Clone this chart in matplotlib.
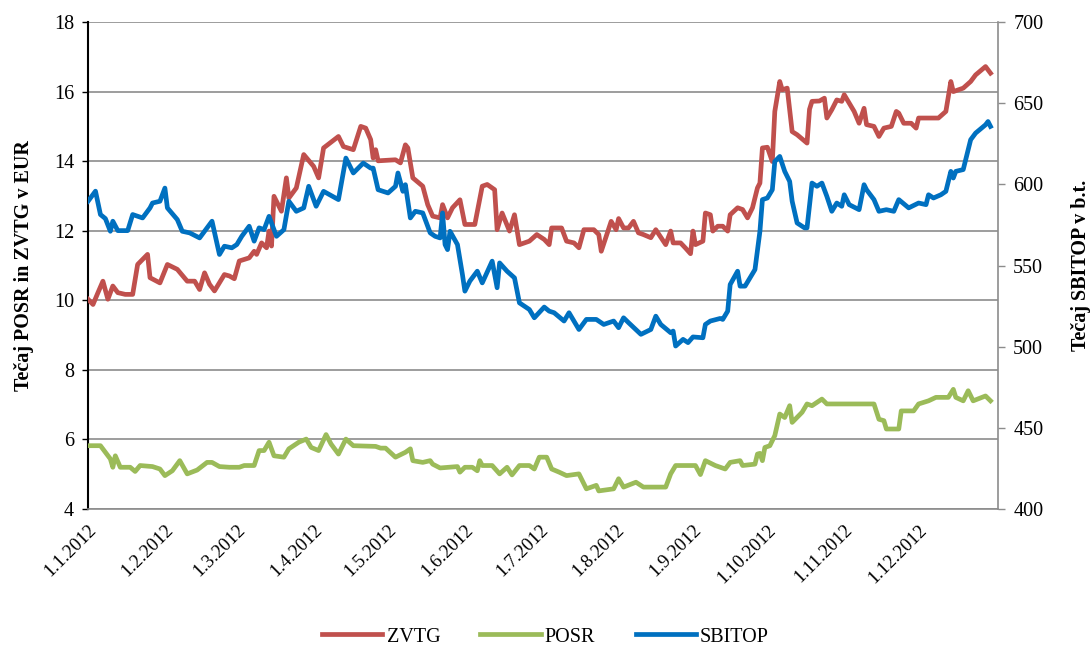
import matplotlib
matplotlib.use("Agg")
import matplotlib.pyplot as plt
import pandas as pd

plt.rcParams['font.family'] = ['Liberation Serif', 'DejaVu Serif']

START = pd.Timestamp('2012-01-01')

# days counted from 1.1.2012
zvtg_day = [0, 2, 4, 6, 8, 10, 12, 15, 18, 20, 24, 25, 29, 32, 36, 40, 43, 45, 47, 49, 51, 55, 57,
            59, 61, 65, 67, 68, 70, 72, 73, 74, 75, 78, 80, 81, 84, 87, 91, 93, 95, 101, 103, 107,
            110, 112, 114, 115, 116, 117, 124, 126, 128, 129, 131, 135, 137, 139, 142, 143, 145,
            147, 150, 152, 156, 159, 161, 164, 165, 167, 170, 172, 174, 178, 181, 184, 186, 187,
            191, 193, 196, 198, 200, 204, 206, 207, 209, 211, 213, 214, 216, 218, 220, 222, 224,
            227, 229, 233, 235, 236, 239, 241, 243, 244, 245, 248, 249, 251, 252, 254, 256, 258,
            259, 262, 264, 266, 268, 270, 271, 272, 274, 276, 277, 279, 280, 282, 284, 286, 290,
            291, 292, 295, 297, 298, 300, 302, 304, 305, 307, 309, 311, 313, 314, 317, 319, 321,
            324, 326, 327, 329, 332, 334, 335, 343, 346, 348, 349, 353, 356, 358, 362, 364]
zvtg = [10.03, 9.88, 10.22, 10.55, 10.03, 10.41, 10.22, 10.17, 10.17, 11.03, 11.32, 10.65, 10.50,
        11.03, 10.89, 10.55, 10.55, 10.31, 10.79, 10.46, 10.27, 10.74, 10.70,
        10.62, 11.13, 11.22, 11.41, 11.32, 11.65, 11.51, 11.99, 11.56, 12.99, 12.56, 13.52, 12.94,
        13.23, 14.19, 13.85, 13.52, 14.38, 14.71, 14.42, 14.33,
        15.00, 14.95, 14.62, 14.09, 14.33, 14.01, 14.04, 13.95, 14.47, 14.38, 13.52, 13.28, 12.75,
        12.42, 12.37, 12.75, 12.37,
        12.66, 12.89, 12.18, 12.18, 13.28, 13.33, 13.18, 12.03, 12.51, 11.99, 12.46, 11.60, 11.70,
        11.89, 11.75, 11.60, 12.08,
        12.08, 11.70, 11.65, 11.51, 12.03, 12.03, 11.89, 11.41, 11.84, 12.27, 12.03, 12.35, 12.08,
        12.08, 12.27, 11.94, 11.89,
        11.80, 12.03, 11.60, 11.99, 11.65, 11.65, 11.50, 11.34, 11.99, 11.60, 11.70, 12.51, 12.46,
        11.99, 12.13, 12.13, 11.99,
        12.46, 12.66, 12.61, 12.37, 12.66, 13.23, 13.37, 14.38, 14.40, 13.99, 15.43, 16.29, 16.05,
        16.10, 14.85, 14.76, 14.52,
        15.49, 15.72, 15.73, 15.81, 15.24, 15.48, 15.76, 15.72, 15.91, 15.67, 15.43, 15.09, 15.52,
        15.05, 15.00, 14.71, 14.95,
        15.00, 15.43, 15.38, 15.09, 15.09, 14.95, 15.24, 15.24, 15.43, 16.29, 16.00, 16.10, 16.29,
        16.48, 16.72, 16.53]

posr_day = [0, 5, 9, 10, 11, 13, 17, 19, 21, 26, 29, 31, 34, 37, 40, 44, 48, 50, 53, 57,
            61, 63, 67, 69, 71, 73, 75, 79, 81, 85, 88, 90, 93, 96, 98, 101, 104, 107, 116, 118,
            120, 124, 128, 130, 131, 135, 138, 139, 142, 149, 150, 152, 155, 157, 158, 159, 163,
            166, 169, 171, 174, 178, 180, 182, 185, 187, 190, 193, 198, 201, 205, 206, 212, 214,
            216, 221, 224, 233, 235, 237, 243, 245, 247, 249, 253, 257, 259, 263, 264, 269, 270,
            271, 272, 273, 275, 277, 279, 281, 283, 284, 288, 290, 292, 296, 298, 305, 317, 319,
            321, 322, 327, 328, 333, 335, 339, 342, 347, 349, 350, 353, 355, 357, 362, 364]
posr = [5.82, 5.82, 5.44, 5.20, 5.53, 5.20, 5.20, 5.08, 5.25, 5.22, 5.15, 4.96, 5.10, 5.39, 5.01,
        5.12, 5.34, 5.34, 5.22, 5.20,
        5.20, 5.25, 5.25, 5.68, 5.68, 5.92, 5.53, 5.49, 5.73, 5.92, 6.01, 5.77, 5.68, 6.14, 5.87,
        5.58, 6.01, 5.82, 5.80, 5.75,
        5.75, 5.49, 5.63, 5.73, 5.39, 5.34, 5.39, 5.29, 5.18, 5.22, 5.06, 5.20, 5.20, 5.10, 5.39,
        5.25, 5.25,
        5.01, 5.20, 4.98, 5.25, 5.25, 5.15, 5.49, 5.49, 5.15, 5.06, 4.96, 5.01, 4.58, 4.68, 4.52,
        4.58, 4.87,
        4.63, 4.77, 4.63, 4.63, 5.01, 5.25, 5.25, 5.25, 4.99, 5.39, 5.25, 5.15, 5.34, 5.39, 5.25,
        5.29, 5.58,
        5.60, 5.39, 5.77, 5.82, 6.11, 6.73, 6.63, 6.97, 6.49, 6.78, 7.02, 6.97, 7.16, 7.02, 7.02,
        7.02, 6.58,
        6.54, 6.30, 6.30, 6.82, 6.82, 7.02, 7.11, 7.21, 7.21, 7.44, 7.21, 7.11, 7.40, 7.11, 7.25,
        7.11]

sbitop_day = [0, 3, 5, 7, 9, 10, 12, 16, 18, 22, 25, 26, 29, 31, 32, 36, 38, 41, 45, 47, 50, 53,
              55, 58, 60, 62, 65, 67, 69, 71, 73, 74, 76, 79, 81, 84, 87, 89, 92, 95, 101, 104,
              107, 111, 114, 115, 117, 121, 124, 125, 127, 128, 130, 132, 135, 138, 140, 142, 143,
              144, 145, 146, 149, 151, 152, 154, 157, 159, 163, 165, 166, 169, 172, 174, 178, 180,
              184, 186, 188, 192, 194, 198, 201, 205, 208, 212, 214, 216, 218, 223, 227, 229, 231,
              235, 236, 237, 240, 242, 244, 248, 249, 251, 255, 256, 258, 259, 262, 263, 265, 267,
              269, 271, 272, 274, 276, 277, 279, 281, 283, 284, 286, 289, 290, 292, 294, 296, 298,
              300, 302, 304, 305, 307, 311, 313, 314, 317, 319, 322, 325, 327, 331, 335, 338, 339,
              341, 344, 346, 348, 349, 350, 353, 356, 358, 362, 363, 364]
sbitop = [589.6, 595.8, 581.4, 578.9, 571.1, 577.3, 571.5, 571.5, 581.4, 579.3, 585.5, 588.5, 589.6,
          597.7, 585.5, 578.3, 571.1, 570.1, 567.0, 571.1, 577.3, 556.8,
          561.9, 560.9, 562.9, 568.0, 574.2, 565.0, 573.2, 572.1, 580.3, 576.2, 568.0, 572.1, 589.6,
          583.4, 585.5, 598.8, 586.5, 595.7, 590.6, 616.2,
          607.0, 613.1, 610.0, 610.0, 596.7, 594.7, 598.8, 607.0, 595.7, 599.8, 579.3, 583.4, 582.4,
          570.1, 568.0, 567.0, 582.4,
          562.9, 559.8, 571.1, 562.9, 544.5, 534.2, 540.4, 546.5, 539.3, 552.7, 536.3, 551.6, 546.5,
          542.4, 527.0, 522.9, 517.8,
          524.4, 521.9, 520.9, 515.8, 520.9, 510.6, 516.8, 516.8, 513.7, 515.8, 511.7, 517.8, 514.8,
          507.6, 510.6, 518.8, 513.7,
          508.6, 509.6, 500.4, 504.5, 502.5, 506.0, 505.5, 513.7, 515.8, 517.4, 516.8, 521.9, 538.3,
          546.5, 537.3, 537.3, 542.4,
          547.5, 571.1, 590.6, 591.6, 596.7, 614.1, 617.2, 608.0, 601.8, 589.6, 576.2, 573.2, 573.2,
          600.8, 598.8, 600.8, 592.6,
          583.4, 588.5, 586.5, 593.6, 587.5, 584.4, 599.8, 596.7, 590.6, 583.4, 584.4, 583.4, 590.6,
          585.5, 588.5, 587.5, 593.6,
          591.6, 593.6, 595.7, 608.0, 603.9, 608.0, 609.1, 627.5, 631.6, 636.7, 638.7, 635.7]

names = ['ZVTG', 'POSR', 'SBITOP']
colors = ['#C0504D', '#9BBB59', '#0070C0']


def to_dates(days):
    return START + pd.to_timedelta(days, unit='D')


fig = plt.figure(figsize=(10.91, 6.48), dpi=100)
ax = fig.add_axes([0.0807, 0.2145, 0.834, 0.7515])
ax2 = ax.twinx()

lw = 3.4
l1, = ax.plot(to_dates(zvtg_day), zvtg, color=colors[0], lw=lw, solid_joinstyle='round', zorder=3)
l2, = ax.plot(to_dates(posr_day), posr, color=colors[1], lw=lw, solid_joinstyle='round', zorder=3)
l3, = ax2.plot(to_dates(sbitop_day), sbitop, color=colors[2], lw=lw, solid_joinstyle='round', zorder=3)

ax.set_ylim(4, 18)
ax.set_yticks(range(4, 19, 2))
ax2.set_ylim(400, 700)
ax2.set_yticks(range(400, 701, 50))
ax.set_xlim(pd.Timestamp('2012-01-01'), pd.Timestamp('2013-01-02'))

ax.grid(axis='y', color='#8C8C8C', lw=1.2)
ax.set_axisbelow(True)

month_ticks = pd.date_range('2012-01-01', '2012-12-01', freq='MS')
ax.set_xticks(month_ticks)
ax.set_xticklabels([f'{d.day}.{d.month}.{d.year}' for d in month_ticks],
                   rotation=45, ha='right', rotation_mode='anchor', fontsize=13.5)
ax.tick_params(axis='x', length=0, pad=9)
ax.tick_params(axis='y', labelsize=14.5, length=4, width=1, color='black', pad=6)
ax2.tick_params(axis='y', labelsize=14.5, length=5, width=1, color='#8C8C8C', pad=6)

ax.spines['top'].set_visible(False)
ax2.spines['top'].set_visible(False)
ax.spines['left'].set_color('black')
ax.spines['left'].set_linewidth(1.5)
ax.spines['bottom'].set_color('#8C8C8C')
ax.spines['bottom'].set_linewidth(1.2)
ax2.spines['right'].set_color('#8C8C8C')
ax2.spines['right'].set_linewidth(1.2)
ax2.spines['left'].set_visible(False)
ax2.spines['bottom'].set_visible(False)
ax.spines['right'].set_visible(False)

ax.set_ylabel('Tečaj POSR in ZVTG v EUR', fontsize=14.5, fontweight='bold', labelpad=14)
ax2.set_ylabel('Tečaj SBITOP v b.t.', fontsize=14.5, fontweight='bold', labelpad=20)

fig.legend([l1, l2, l3], names, loc='center', bbox_to_anchor=(0.5, 0.017),
           ncol=3, frameon=False, fontsize=14.5, handlelength=3, columnspacing=2.0,
           handletextpad=0.2)

fig.savefig('out.png', dpi=100)
